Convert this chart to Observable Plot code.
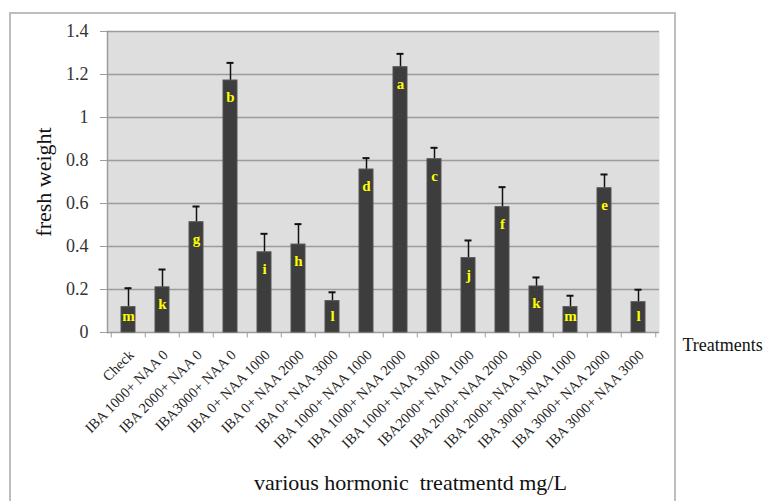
<!DOCTYPE html>
<html>
<head>
<meta charset="utf-8">
<script src="https://cdn.jsdelivr.net/npm/d3@7"></script>
<script src="https://cdn.jsdelivr.net/npm/@observablehq/plot@0.6"></script>
<style>
  html, body { margin: 0; padding: 0; background: #fff; overflow: hidden; }
  #wrap { position: relative; width: 767px; height: 501px; }
  #border { position: absolute; left: 9px; top: 12px; width: 667px; height: 520px; border: 2px solid #bdbdbd; box-sizing: border-box; }
  #chart { position: absolute; left: 0; top: 0; }
  #chart svg, #chart svg text { font-family: "Liberation Serif", "Times New Roman", serif; }
</style>
</head>
<body>
<div id="wrap"><div id="border"></div><div id="chart"></div></div>
<script>
const categories = ["Check","IBA 1000+ NAA 0","IBA 2000+ NAA 0","IBA3000+ NAA 0","IBA 0+ NAA 1000","IBA 0+ NAA 2000","IBA 0+ NAA 3000","IBA 1000+ NAA 1000","IBA 1000+ NAA 2000","IBA 1000+ NAA 3000","IBA2000+ NAA 1000","IBA 2000+ NAA 2000","IBA 2000+ NAA 3000","IBA 3000+ NAA 1000","IBA 3000+ NAA 2000","IBA 3000+ NAA 3000"];
const means = [0.118, 0.21, 0.513, 1.172, 0.373, 0.409, 0.146, 0.758, 1.234, 0.806, 0.346, 0.583, 0.214, 0.118, 0.671, 0.141];
const errors = [0.088, 0.083, 0.073, 0.082, 0.086, 0.095, 0.041, 0.053, 0.062, 0.053, 0.082, 0.093, 0.042, 0.053, 0.064, 0.058];
const letters = ["m","k","g","b","i","h","l","d","a","c","j","f","k","m","e","l"];
const yTicks = [0, 0.2, 0.4, 0.6, 0.8, 1, 1.2, 1.4];
const yTickLabels = ["0", "0.2", "0.4", "0.6", "0.8", "1", "1.2", "1.4"];

const data = categories.map((c, i) => ({cat: c, v: means[i], e: errors[i], lab: letters[i]}));
const step = (767 - 107 - 108) / categories.length;
const serif = "'Liberation Serif', 'Times New Roman', serif";

const chart = Plot.plot({
  width: 767, height: 501,
  marginLeft: 107, marginRight: 108, marginTop: 31, marginBottom: 169,
  style: "font-family: 'Liberation Serif', 'Times New Roman', serif; background: transparent; color: #222;",
  x: {domain: categories, paddingInner: 0.58, paddingOuter: 0.29, axis: null},
  y: {domain: [0, 1.4], axis: null},
  marks: [
    Plot.frame({fill: "#dedede", stroke: null}),
    Plot.gridY(yTicks.slice(1), {stroke: "#9c9c9c", strokeOpacity: 1, strokeWidth: 1.5}),
    Plot.axisY({ticks: yTicks, tickFormat: (d, i) => yTickLabels[i], tickSize: 7, tickPadding: 12, fontSize: 18, fontFamily: serif, stroke: "#9c9c9c", color: "#333", label: null}),
    Plot.frame({anchor: "left", stroke: "#9c9c9c", strokeWidth: 1.5}),
    Plot.ruleY([0], {stroke: "#9c9c9c", strokeWidth: 1.5}),
    Plot.ruleX(categories, {x: d => d, y1: 0, y2: -0.025, dx: -step / 2, stroke: "#9c9c9c"}),
    Plot.ruleX(categories.slice(-1), {x: d => d, y1: 0, y2: -0.025, dx: step / 2, stroke: "#9c9c9c"}),
    Plot.ruleX(data, {x: "cat", y1: "v", y2: d => d.v + d.e, stroke: "#111", strokeWidth: 1.5}),
    Plot.tickY(data, {x: "cat", y: d => d.v + d.e, stroke: "#111", strokeWidth: 2, insetLeft: 3.5, insetRight: 3.5}),
    Plot.barY(data, {x: "cat", y: "v", fill: "#3d3d3d", stroke: "#555", strokeWidth: 1}),
    Plot.text(data, {x: "cat", y: d => Math.max(d.v - 0.079, 0.075), text: "lab", fill: "#ffff00", fontWeight: "bold", fontSize: 15, fontFamily: serif}),
    Plot.axisX({tickRotate: -45, tickSize: 0, tickPadding: 20, dx: 3, fontSize: 14.5, fontFamily: serif, color: "#222", label: null}),
    Plot.text(["fresh weight"], {frameAnchor: "left", textAnchor: "middle", lineAnchor: "middle", dx: -64, rotate: -90, fontSize: 22, fontFamily: serif, fill: "#111"}),
    Plot.text(["various hormonic  treatmentd mg/L"], {frameAnchor: "bottom", textAnchor: "middle", lineAnchor: "middle", dx: 27, dy: 150, fontSize: 22, fontFamily: serif, fill: "#111"}),
    Plot.text(["Treatments"], {frameAnchor: "bottom-right", textAnchor: "start", lineAnchor: "middle", dx: 23, dy: 13, fontSize: 18, fontFamily: serif, fill: "#111"})
  ]
});
document.getElementById("chart").appendChild(chart);
</script>
</body>
</html>
